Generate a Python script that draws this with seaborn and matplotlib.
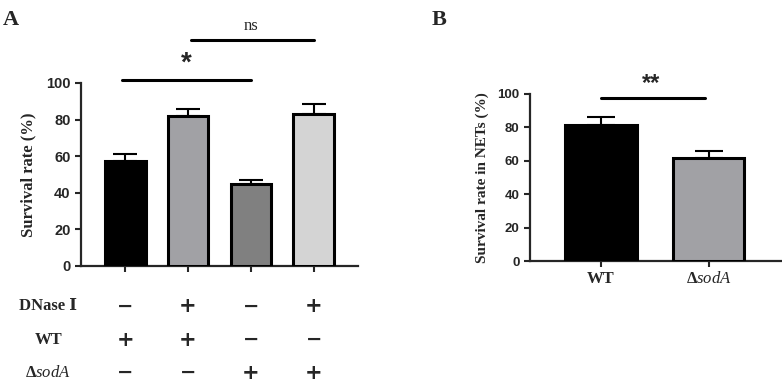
import numpy as np
import pandas as pd
import matplotlib
matplotlib.use("Agg")
import matplotlib.pyplot as plt
import matplotlib.transforms as mtransforms
import seaborn as sns

# panel A data
groups_a = ["g1", "g2", "g3", "g4"]
survival_a = [57.5, 81.8, 44.8, 83.2]
sem_a = [3.9, 3.8, 2.0, 5.2]
colors_a = ["#000000", "#a1a1a5", "#808080", "#d4d4d4"]
row_labels = ["DNase Ⅰ", "WT", r"$\mathbf{\Delta}$$\bf{\it{sodA}}$"]
dnase = ["−", "+", "−", "+"]
wt = ["+", "+", "−", "−"]
soda = ["−", "−", "+", "+"]

# panel B data
groups_b = ["WT", "ΔsodA"]
tick_labels_b = ["WT", r"$\mathbf{\Delta}$$\bf{\it{sodA}}$"]
survival_b = [81.3, 61.8]
sem_b = [4.6, 3.8]
colors_b = ["#000000", "#a1a1a5"]

sns.set_style("ticks")
plt.rcParams["font.family"] = ["Liberation Sans", "DejaVu Sans"]
plt.rcParams["mathtext.fontset"] = "custom"
plt.rcParams["mathtext.rm"] = "Liberation Serif"
plt.rcParams["mathtext.it"] = "Liberation Serif:italic"
plt.rcParams["mathtext.bf"] = "Liberation Serif:bold"
plt.rcParams["mathtext.bfit"] = "Liberation Serif:bold:italic"

fig = plt.figure(figsize=(7.82, 3.84), dpi=100)
ax_a = fig.add_axes([0.1036, 0.3073, 0.3542, 0.4766])
ax_b = fig.add_axes([0.6777, 0.3203, 0.3219, 0.4357])

serif = ["Liberation Serif", "DejaVu Serif", "Noto Sans CJK SC"]


def style_axis(ax, fs):
    for s in ["top", "right"]:
        ax.spines[s].set_visible(False)
    for s in ["left", "bottom"]:
        ax.spines[s].set_linewidth(1.6)
    ax.tick_params(width=1.5, length=4, labelsize=fs)
    for lab in ax.get_yticklabels():
        lab.set_fontweight("bold")


# ---- panel A
df_a = pd.DataFrame({"group": groups_a, "rate": survival_a})
sns.barplot(data=df_a, x="group", y="rate", hue="group", palette=colors_a,
            legend=False, width=0.65, edgecolor="black", linewidth=2.2,
            errorbar=None, ax=ax_a, zorder=3)
ax_a.errorbar(range(len(groups_a)), survival_a,
              yerr=[np.zeros(len(sem_a)), sem_a], fmt="none", ecolor="black",
              elinewidth=1.5, capsize=8.6, capthick=1.5, zorder=2)
ax_a.set_ylim(0, 100)
ax_a.set_xlim(-0.70, 3.70)
ax_a.set_yticks([0, 20, 40, 60, 80, 100])
ax_a.set_xticks(range(4))
ax_a.set_xticklabels([])
ax_a.set_xlabel("")
ax_a.set_ylabel("Survival rate (%)", family=serif, fontweight="bold",
                fontsize=12, labelpad=7)
style_axis(ax_a, 10.5)

# significance
ax_a.plot([-0.05, 2.0], [101.5, 101.5], color="black", lw=2.2, clip_on=False)
ax_a.text(0.98, 103.5, "*", ha="center", va="bottom", fontsize=20,
          fontweight="bold")
ax_a.plot([1.05, 3.0], [123.5, 123.5], color="black", lw=2.2, clip_on=False)
ax_a.text(2.0, 127, "ns", ha="center", va="bottom", fontsize=12, family=serif)

# condition table
trans = mtransforms.blended_transform_factory(ax_a.transData, ax_a.transAxes)
row_y = [-0.218, -0.402, -0.582]
for label, signs, y in zip(row_labels, [dnase, wt, soda], row_y):
    ax_a.text(-1.22, y, label, transform=trans, ha="center", va="center",
              fontsize=12, fontweight="bold", family=serif)
    for i, s in enumerate(signs):
        ax_a.text(i, y, s, transform=trans, ha="center", va="center",
                  fontsize=15 if s == "+" else 14, fontweight="bold",
                  family="DejaVu Sans")

# ---- panel B
df_b = pd.DataFrame({"group": groups_b, "rate": survival_b})
sns.barplot(data=df_b, x="group", y="rate", hue="group", palette=colors_b,
            legend=False, width=0.665, edgecolor="black", linewidth=2.2,
            errorbar=None, ax=ax_b, zorder=3)
ax_b.errorbar(range(len(groups_b)), survival_b,
              yerr=[np.zeros(len(sem_b)), sem_b], fmt="none", ecolor="black",
              elinewidth=1.5, capsize=10, capthick=1.5, zorder=2)
ax_b.set_ylim(0, 100)
ax_b.set_xlim(-0.66, 1.68)
ax_b.set_yticks([0, 20, 40, 60, 80, 100])
ax_b.set_xticks(range(2))
ax_b.set_xlabel("")
ax_b.set_ylabel("Survival rate in NETs (%)", family=serif, fontweight="bold",
                fontsize=11, labelpad=6)
style_axis(ax_b, 9.5)
ax_b.set_xticklabels(tick_labels_b, family=serif, fontweight="bold",
                     fontsize=12)
ax_b.plot([0.0, 0.97], [97.6, 97.6], color="black", lw=2.2, clip_on=False)
ax_b.text(0.47, 99.0, "**", ha="center", va="bottom", fontsize=17,
          fontweight="bold")

# panel letters
fig.text(0.004, 0.975, "A", fontsize=16, fontweight="bold", family=serif,
         va="top")
fig.text(0.552, 0.975, "B", fontsize=16, fontweight="bold", family=serif,
         va="top")

fig.savefig("out.png", dpi=100)
